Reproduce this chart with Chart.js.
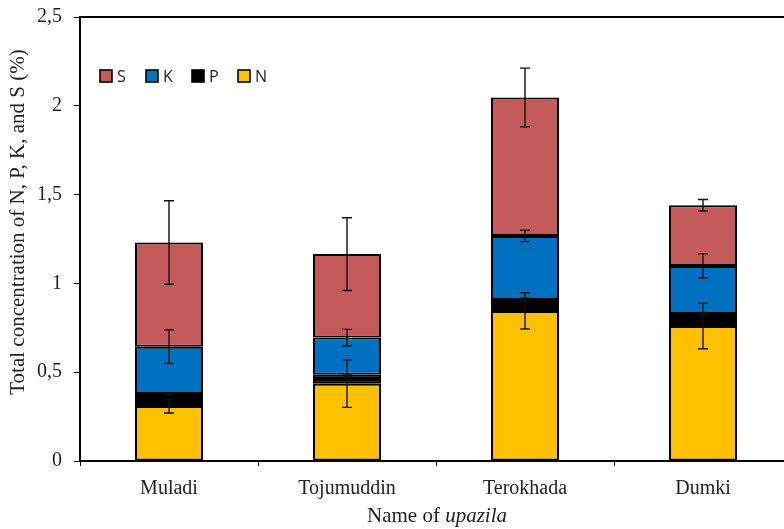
<!DOCTYPE html>
<html>
<head>
<meta charset="utf-8">
<script src="https://cdn.jsdelivr.net/npm/chart.js@4/dist/chart.umd.min.js"></script>
<style>
  html, body { margin: 0; padding: 0; background: #fff; overflow: hidden; }
  #wrap { width: 800px; height: 529px; }
</style>
</head>
<body>
<div id="wrap"><canvas id="c" width="800" height="529"></canvas></div>
<script>
// Upazila names
const upazilas = ['Muladi', 'Tojumuddin', 'Terokhada', 'Dumki'];

// Nutrient concentrations (%), stacked bottom to top: N, P, K, S
const nValues = [0.31, 0.435, 0.845, 0.76];
const pValues = [0.067, 0.05, 0.062, 0.068];
const kValues = [0.267, 0.21, 0.36, 0.27];
const sValues = [0.586, 0.47, 0.78, 0.342];

// Standard errors shown as error bars at the top of each segment
const nErrors = [0.04, 0.133, 0.102, 0.128];
const pErrors = [0.005, 0.005, 0.01, 0.008];
const kErrors = [0.095, 0.046, 0.032, 0.068];
const sErrors = [0.235, 0.205, 0.165, 0.032];

// Value axis ticks
const yTicks = [0, 0.5, 1, 1.5, 2, 2.5];

const seriesNames = ['N', 'P', 'K', 'S'];
const seriesColors = ['#FFC000', '#000000', '#0070C0', '#C55A5A'];
const seriesValues = [nValues, pValues, kValues, sValues];
const seriesErrors = [nErrors, pErrors, kErrors, sErrors];

const serif = '"Liberation Serif", "Times New Roman", serif';
const sans = '"Open Sans", "Liberation Sans", Arial, sans-serif';

const datasets = seriesNames.map((name, i) => ({
  label: name,
  data: seriesValues[i],
  errors: seriesErrors[i],
  backgroundColor: seriesColors[i],
  borderColor: '#000',
  borderWidth: 2,
  borderSkipped: false,
  barPercentage: 0.382,
  categoryPercentage: 1.0
}));

// Error bars drawn at the cumulative top of each stacked segment
const errorBars = {
  id: 'errorBars',
  afterDatasetsDraw(chart) {
    const ctx = chart.ctx;
    const y = chart.scales.y;
    ctx.save();
    ctx.strokeStyle = '#111';
    ctx.lineWidth = 1.4;
    const cap = 5;
    upazilas.forEach((_, j) => {
      let top = 0;
      chart.data.datasets.forEach((ds, i) => {
        top += ds.data[j];
        const e = ds.errors[j];
        const x = chart.getDatasetMeta(i).data[j].x;
        const y1 = y.getPixelForValue(top + e);
        const y2 = y.getPixelForValue(top - e);
        ctx.beginPath();
        ctx.moveTo(x, y1); ctx.lineTo(x, y2);
        ctx.moveTo(x - cap, y1); ctx.lineTo(x + cap, y1);
        ctx.moveTo(x - cap, y2); ctx.lineTo(x + cap, y2);
        ctx.stroke();
      });
    });
    ctx.restore();
  }
};

// Frame top, legend inside plot area, and axis titles
const decorations = {
  id: 'decorations',
  afterDraw(chart) {
    const ctx = chart.ctx;
    const a = chart.chartArea;
    ctx.save();
    // top border of the plot area
    ctx.strokeStyle = '#000';
    ctx.lineWidth = 2;
    ctx.beginPath();
    ctx.moveTo(a.left - 1, a.top);
    ctx.lineTo(a.right, a.top);
    ctx.stroke();

    // legend (S, K, P, N)
    const order = chart.data.datasets.slice().reverse();
    ctx.font = '16px ' + sans;
    ctx.textBaseline = 'middle';
    ctx.textAlign = 'left';
    order.forEach((ds, k) => {
      const x0 = 100 + k * 46;
      const yc = 76;
      ctx.fillStyle = ds.backgroundColor;
      ctx.fillRect(x0, yc - 6, 12, 12);
      ctx.lineWidth = 1.6;
      ctx.strokeStyle = '#000';
      ctx.strokeRect(x0, yc - 6, 12, 12);
      ctx.fillStyle = '#222';
      ctx.fillText(ds.label, x0 + 17, yc + 1);
    });

    // y axis title
    ctx.fillStyle = '#222';
    ctx.font = '21px ' + serif;
    ctx.textAlign = 'center';
    ctx.textBaseline = 'middle';
    ctx.save();
    ctx.translate(18, 222);
    ctx.rotate(-Math.PI / 2);
    ctx.fillText('Total concentration of N, P, K, and S (%)', 0, 0);
    ctx.restore();

    // x axis title with italic upazila
    const part1 = 'Name of ';
    const part2 = 'upazila';
    ctx.font = '21px ' + serif;
    const w1 = ctx.measureText(part1).width;
    ctx.font = 'italic 21px ' + serif;
    const w2 = ctx.measureText(part2).width;
    const xs = 437 - (w1 + w2) / 2;
    ctx.textAlign = 'left';
    ctx.font = '21px ' + serif;
    ctx.fillText(part1, xs, 516);
    ctx.font = 'italic 21px ' + serif;
    ctx.fillText(part2, xs + w1, 516);
    ctx.restore();
  }
};

new Chart(document.getElementById('c'), {
  type: 'bar',
  data: { labels: upazilas, datasets },
  plugins: [errorBars, decorations],
  options: {
    responsive: false,
    animation: false,
    devicePixelRatio: 1,
    layout: { padding: { top: 17, right: 8, left: 0, bottom: 0 } },
    plugins: { legend: { display: false }, tooltip: { enabled: false } },
    scales: {
      x: {
        stacked: true,
        offset: true,
        grid: { offset: true, drawOnChartArea: false, drawTicks: true, tickLength: 5, color: '#000', lineWidth: 1 },
        border: { color: '#000', width: 2 },
        ticks: { color: '#222', font: { family: serif, size: 20 }, padding: 11, maxRotation: 0 },
        afterFit(scale) {
          scale.height = 529 - 461;
          scale.paddingLeft = 0;
          scale.paddingRight = 0;
        }
      },
      y: {
        stacked: true,
        min: 0,
        max: 2.5,
        afterBuildTicks(scale) { scale.ticks = yTicks.map(v => ({ value: v })); },
        grid: { drawOnChartArea: false, drawTicks: true, tickLength: 6, color: '#000', lineWidth: 1 },
        border: { color: '#000', width: 2 },
        ticks: {
          color: '#222',
          font: { family: serif, size: 20 },
          padding: 12,
          callback: v => String(v).replace('.', ',')
        },
        afterFit(scale) {
          scale.width = 80;
          scale.paddingTop = 0;
          scale.paddingBottom = 0;
        }
      }
    }
  }
});
</script>
</body>
</html>
